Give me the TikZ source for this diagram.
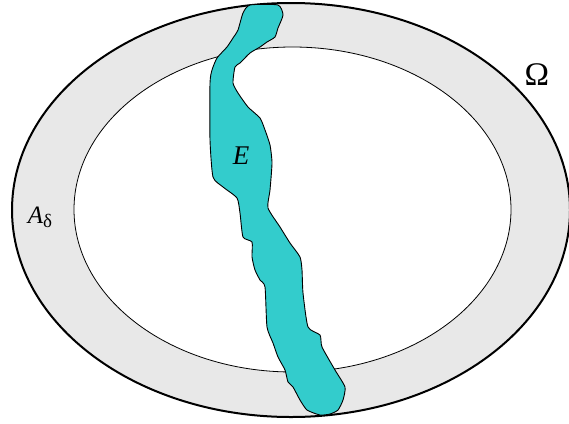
\documentclass[tikz,border=0pt]{standalone}
\usepackage{fontspec}
\setmainfont{Liberation Serif}
\usepackage{xcolor}
\usepackage{tikz}
\definecolor{ringGray}{HTML}{E8E8E8}
\definecolor{setTeal}{HTML}{33CCCC}

\begin{document}
\begin{tikzpicture}[x=1pt, y=-1pt,
  outer/.style={line width=2pt, black},
  inner/.style={line width=0.8pt, black, fill=white},
  blob/.style={line width=0.9pt, black, fill=setTeal},
  lbl/.style={inner sep=0pt, font=\fontsize{27}{32}\selectfont},
]
\useasboundingbox (0,0) rectangle (569,423);

% Domain and the annulus
\fill[ringGray] (291,210) ellipse [x radius=279pt, y radius=207pt];
\draw[inner] (292.5,209.5) ellipse [x radius=218.5pt, y radius=162.5pt];
\draw[outer] (291,210) ellipse [x radius=279pt, y radius=207pt];

% The set E
\draw[blob] plot[smooth cycle, tension=0.35] coordinates {
  (250,5) (278,5) (283,15) (278,28) (275,37) (267,42) (260,47) (250,53)
  (240,63) (235,67) (233,83) (238,93) (248,107) (260,118) (265,130)
  (270,145) (272,163) (270,190) (268,208) (280,227) (290,243) (300,257)
  (302,270) (303,293) (308,327) (320,335) (322,347) (335,370) (345,387)
  (343,400) (338,410) (330,414) (320,415) (307,410) (300,400) (293,387)
  (288,382) (285,370) (278,357) (273,343) (267,327) (265,287) (260,280)
  (255,270) (252,257) (252,242) (243,237) (240,213) (237,198) (223,187)
  (213,177) (210,140) (210,83) (212,70) (217,58) (227,47) (233,38)
  (238,30) (243,13)};

% Labels
\node[lbl] (labE) at (241,156) {\textit{E}};
\node[lbl, font=\fontsize{25}{30}\selectfont] (labA) at (40,217)
  {\textit{A}\raisebox{-4pt}{\fontsize{19}{22}\selectfont δ}};
\node[lbl, font=\fontsize{33}{40}\selectfont] (labO) at (537,75) {Ω};

\end{tikzpicture}
\end{document}
